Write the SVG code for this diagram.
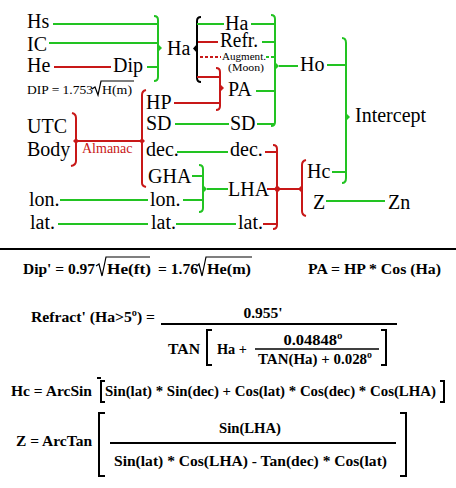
<svg xmlns="http://www.w3.org/2000/svg" width="456" height="488" viewBox="0 0 456 488">
<style>
.g{stroke:#22c322;stroke-width:2;fill:none}
.r{stroke:#c81818;stroke-width:2;fill:none}
.k{stroke:#000;stroke-width:2;fill:none}
.gf{fill:#22c322}
.rf{fill:#c81818}
.kf{fill:#000}
text{font-family:"Liberation Serif",serif}
.t{font-size:20px;fill:#000}
.s{font-size:11px;fill:#000}
.a{font-size:14px;fill:#c81818}
.d{font-size:13.5px;fill:#000}
.f{font-size:15.5px;font-weight:bold;fill:#000}
.kl{stroke:#000;stroke-width:1.2;fill:none}
</style>
<rect width="456" height="488" fill="#fff"/>

<g id="connectors">
  <line class="g" x1="53" y1="24" x2="158" y2="24"/>
  <line class="g" x1="49" y1="43" x2="158" y2="43"/>
  <line class="r" x1="54" y1="67" x2="111" y2="67"/>
  <line class="g" x1="147" y1="67" x2="158" y2="67"/>
  <path class="g" d="M154,16 Q158,16 158,20 V77 Q158,81 154,81"/>
  <polygon class="gf" points="158,44 162,48 158,52"/>
  <path class="k" d="M201,17 Q197,17 197,21 V78 Q197,82 201,82"/>
  <polygon class="kf" points="197,44 193,48.5 197,53"/>
  <line class="g" x1="197" y1="24" x2="224" y2="24"/>
  <line class="g" x1="251" y1="24" x2="275" y2="24"/>
  <line class="r" x1="198" y1="42" x2="218" y2="42"/>
  <line class="g" x1="262" y1="42" x2="275" y2="42"/>
  <line class="r" x1="200" y1="57" x2="221" y2="57" stroke-width="1" stroke-dasharray="3,2"/>
  <line class="g" x1="266" y1="57" x2="275" y2="57" stroke-width="1" stroke-dasharray="3,2"/>
  <line class="r" x1="197" y1="77" x2="220" y2="77"/>
  <line class="r" x1="174" y1="103" x2="220" y2="103"/>
  <path class="r" d="M216,68 Q220,68 220,72 V106 Q220,110 216,110"/>
  <polygon class="rf" points="220,84 224,88 220,92"/>
  <line class="g" x1="256" y1="91" x2="275" y2="91"/>
  <line class="g" x1="175" y1="124" x2="229" y2="124"/>
  <line class="g" x1="257" y1="124" x2="275" y2="124"/>
  <path class="g" d="M271,15 Q275,15 275,19 V122 Q275,126 271,126"/>
  <polygon class="gf" points="275,62 279,66 275,70"/>
  <line class="g" x1="279" y1="66" x2="298" y2="66"/>
  <line class="g" x1="327" y1="65" x2="346" y2="65"/>
  <path class="g" d="M342,38 Q346,38 346,43 V178 Q346,183 342,183"/>
  <polygon class="gf" points="346,113 350,117 346,121"/>
  <line class="g" x1="332" y1="172" x2="346" y2="172"/>
  <path class="r" d="M72,113 Q76,114 76,118 V161 Q76,165 71,166"/>
  <polygon class="rf" points="76,138 79,141 76,144 73,141"/>
  <line class="r" x1="76" y1="141" x2="142" y2="141"/>
  <path class="r" d="M146,90 Q142,91 142,95 V183 Q142,186 146,187"/>
  <polygon class="rf" points="142,138 145,141 142,144 139,141"/>
  <line class="g" x1="177" y1="152" x2="228" y2="152"/>
  <line class="g" x1="192" y1="176" x2="203" y2="176"/>
  <line class="g" x1="60" y1="200" x2="148" y2="200"/>
  <line class="g" x1="183" y1="200" x2="203" y2="200"/>
  <path class="g" d="M199,165 Q203,165 203,169 V208 Q203,212 199,212"/>
  <polygon class="gf" points="203,185 207,189 203,193"/>
  <line class="g" x1="207" y1="189" x2="228" y2="189"/>
  <line class="g" x1="58" y1="224" x2="148" y2="224"/>
  <line class="g" x1="176" y1="224" x2="236" y2="224"/>
  <line class="r" x1="265" y1="152" x2="277" y2="152"/>
  <line class="r" x1="267" y1="189" x2="277" y2="189"/>
  <line class="r" x1="263" y1="224" x2="277" y2="224"/>
  <path class="r" d="M273,145 Q277,145 277,149 V225 Q277,229 273,229"/>
  <polygon class="rf" points="277,185 281,189 277,193 274,189"/>
  <line class="r" x1="277" y1="189" x2="300" y2="189"/>
  <path class="r" d="M306,160 Q302,161 302,165 V211 Q302,215 306,216"/>
  <polygon class="rf" points="302,185 298,189 302,193"/>
  <line class="g" x1="326" y1="201" x2="385" y2="201"/>
</g>

<g id="n-Hs"><text class="t" x="27" y="28">Hs</text></g>
<g id="n-IC"><text class="t" x="27" y="51">IC</text></g>
<g id="n-He"><text class="t" x="27" y="72">He</text></g>
<g id="n-Dip"><text class="t" x="113" y="72">Dip</text></g>
<g id="n-DIPformula">
  <text class="d" x="27" y="94" textLength="66" lengthAdjust="spacingAndGlyphs">DIP = 1.753</text>
  <path class="kl" d="M92,89 L95,87 L98,95 L101,81 L134,81"/>
  <text class="d" x="102" y="94" textLength="30" lengthAdjust="spacingAndGlyphs">H(m)</text>
</g>
<g id="n-Ha"><text class="t" x="167" y="55">Ha</text></g>
<g id="n-Ha2"><text class="t" x="225" y="30" font-size="19">Ha</text></g>
<g id="n-Refr"><text class="t" x="220" y="47" font-size="19" textLength="38" lengthAdjust="spacingAndGlyphs">Refr.</text></g>
<g id="n-Augment">
  <text class="s" x="222" y="60" textLength="44" lengthAdjust="spacingAndGlyphs">Augment.</text>
  <text class="s" x="228" y="71" textLength="36" lengthAdjust="spacingAndGlyphs">(Moon)</text>
</g>
<g id="n-PA"><text class="t" x="228" y="96">PA</text></g>
<g id="n-SD2"><text class="t" x="230" y="130">SD</text></g>
<g id="n-Ho"><text class="t" x="300" y="71">Ho</text></g>
<g id="n-Intercept"><text class="t" x="355" y="122">Intercept</text></g>
<g id="n-UTC"><text class="t" x="27" y="133">UTC</text></g>
<g id="n-Body"><text class="t" x="27" y="156">Body</text></g>
<g id="n-Almanac"><text class="a" x="82" y="153">Almanac</text></g>
<g id="n-HP"><text class="t" x="146" y="109">HP</text></g>
<g id="n-SD"><text class="t" x="146" y="130">SD</text></g>
<g id="n-dec"><text class="t" x="146" y="156">dec.</text></g>
<g id="n-dec2"><text class="t" x="230" y="156">dec.</text></g>
<g id="n-GHA"><text class="t" x="148" y="183">GHA</text></g>
<g id="n-lon"><text class="t" x="29" y="206">lon.</text></g>
<g id="n-lon2"><text class="t" x="150" y="206">lon.</text></g>
<g id="n-lat"><text class="t" x="30" y="229">lat.</text></g>
<g id="n-lat2"><text class="t" x="151" y="229">lat.</text></g>
<g id="n-lat3"><text class="t" x="238" y="229">lat.</text></g>
<g id="n-LHA"><text class="t" x="228" y="196">LHA</text></g>
<g id="n-Hc"><text class="t" x="307" y="178">Hc</text></g>
<g id="n-Z"><text class="t" x="313" y="209">Z</text></g>
<g id="n-Zn"><text class="t" x="388" y="209">Zn</text></g>

<line x1="0" y1="249" x2="456" y2="249" stroke="#000" stroke-width="2"/>

<g id="formula-dip">
  <text class="f" x="23" y="274" textLength="72" lengthAdjust="spacingAndGlyphs">Dip' = 0.97</text>
  <path class="kl" stroke-width="1.6" d="M96,266 L99,264 L102,276 L106,257 L150,257"/>
  <text class="f" x="107" y="274" textLength="44" lengthAdjust="spacingAndGlyphs">He(ft)</text>
  <text class="f" x="158" y="274" textLength="40" lengthAdjust="spacingAndGlyphs">= 1.76</text>
  <path class="kl" stroke-width="1.6" d="M197,266 L199,264 L202,276 L206,257 L252,257"/>
  <text class="f" x="207" y="274" textLength="44" lengthAdjust="spacingAndGlyphs">He(m)</text>
</g>
<g id="formula-pa">
  <text class="f" x="308" y="274" textLength="133" lengthAdjust="spacingAndGlyphs">PA = HP * Cos (Ha)</text>
</g>
<g id="formula-refract">
  <text class="f" x="31" y="322" textLength="124" lengthAdjust="spacingAndGlyphs">Refract' (Ha&gt;5º) =</text>
  <line x1="161" y1="324" x2="397" y2="324" stroke="#000" stroke-width="2"/>
  <text class="f" x="263" y="318" text-anchor="middle">0.955'</text>
  <text class="f" x="168" y="354" textLength="32" lengthAdjust="spacingAndGlyphs">TAN</text>
  <path class="k" stroke-width="1.6" d="M212,330 H207 V365 H212"/>
  <text class="f" x="217" y="354" textLength="30" lengthAdjust="spacingAndGlyphs">Ha +</text>
  <text class="f" x="313" y="345" text-anchor="middle" textLength="59" lengthAdjust="spacingAndGlyphs">0.04848º</text>
  <line x1="255" y1="349" x2="379" y2="349" stroke="#000" stroke-width="1.5"/>
  <text class="f" x="258" y="364" textLength="114" lengthAdjust="spacingAndGlyphs">TAN(Ha) + 0.028º</text>
  <path class="k" stroke-width="1.6" d="M381,330 H386 V365 H381"/>
  <rect x="97" y="377" width="4" height="2" fill="#000"/>
</g>
<g id="formula-hc">
  <text class="f" x="11" y="396" textLength="81" lengthAdjust="spacingAndGlyphs">Hc = ArcSin</text>
  <path class="k" stroke-width="1.6" d="M105,381 H101 V402 H105"/>
  <text class="f" x="105" y="396" textLength="331" lengthAdjust="spacingAndGlyphs">Sin(lat) * Sin(dec) + Cos(lat) * Cos(dec) * Cos(LHA)</text>
  <path class="k" stroke-width="1.6" d="M440,381 H444 V402 H440"/>
</g>
<g id="formula-z">
  <text class="f" x="16" y="446" textLength="76" lengthAdjust="spacingAndGlyphs">Z = ArcTan</text>
  <path class="k" stroke-width="2.5" d="M105,413 H99 V476 H105"/>
  <text class="f" x="219" y="433" textLength="62" lengthAdjust="spacingAndGlyphs">Sin(LHA)</text>
  <line x1="110" y1="443" x2="396" y2="443" stroke="#000" stroke-width="2"/>
  <text class="f" x="114" y="466" textLength="273" lengthAdjust="spacingAndGlyphs">Sin(lat) * Cos(LHA) - Tan(dec) * Cos(lat)</text>
  <path class="k" stroke-width="2.5" d="M400,413 H406 V476 H400"/>
</g>
</svg>
